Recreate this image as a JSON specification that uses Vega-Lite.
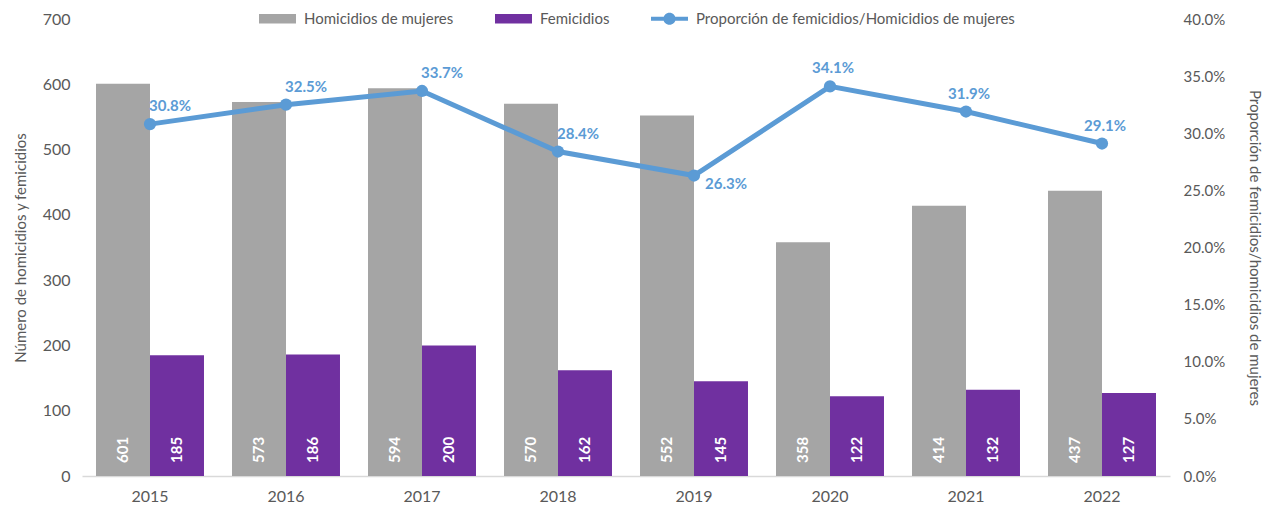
{
  "$schema": "https://vega.github.io/schema/vega-lite/v6.json",
  "width": 1088,
  "height": 457,
  "autosize": {"type": "none"},
  "padding": {"left": 82, "top": 19, "right": 96, "bottom": 30},
  "background": "white",
  "config": {
    "font": "Lato",
    "view": {"stroke": null},
    "axis": {"labelColor": "#595959", "titleColor": "#595959", "labelFontSize": 15, "titleFontSize": 15, "titleFontWeight": "normal", "grid": false, "ticks": false}
  },
  "datasets": {
    "bars": [
      {"year": "2015", "serie": "Homicidios de mujeres", "value": 601},
      {"year": "2015", "serie": "Femicidios", "value": 185},
      {"year": "2016", "serie": "Homicidios de mujeres", "value": 573},
      {"year": "2016", "serie": "Femicidios", "value": 186},
      {"year": "2017", "serie": "Homicidios de mujeres", "value": 594},
      {"year": "2017", "serie": "Femicidios", "value": 200},
      {"year": "2018", "serie": "Homicidios de mujeres", "value": 570},
      {"year": "2018", "serie": "Femicidios", "value": 162},
      {"year": "2019", "serie": "Homicidios de mujeres", "value": 552},
      {"year": "2019", "serie": "Femicidios", "value": 145},
      {"year": "2020", "serie": "Homicidios de mujeres", "value": 358},
      {"year": "2020", "serie": "Femicidios", "value": 122},
      {"year": "2021", "serie": "Homicidios de mujeres", "value": 414},
      {"year": "2021", "serie": "Femicidios", "value": 132},
      {"year": "2022", "serie": "Homicidios de mujeres", "value": 437},
      {"year": "2022", "serie": "Femicidios", "value": 127}
    ],
    "prop": [
      {"year": "2015", "prop": 0.308},
      {"year": "2016", "prop": 0.325},
      {"year": "2017", "prop": 0.337},
      {"year": "2018", "prop": 0.284},
      {"year": "2019", "prop": 0.263},
      {"year": "2020", "prop": 0.341},
      {"year": "2021", "prop": 0.319},
      {"year": "2022", "prop": 0.291}
    ]
  },
  "encoding": {
    "x": {
      "field": "year", "type": "ordinal",
      "scale": {"paddingInner": 0.206, "paddingOuter": 0.103},
      "axis": {"title": null, "labelAngle": 0, "labelFontSize": 16, "labelPadding": 12, "domainColor": "#d9d9d9", "domainWidth": 1.5}
    }
  },
  "layer": [
    {
      "data": {"name": "bars"},
      "encoding": {
        "xOffset": {"field": "serie", "type": "nominal", "sort": ["Homicidios de mujeres", "Femicidios"], "scale": {"paddingInner": 0, "paddingOuter": 0}}
      },
      "layer": [
        {
          "mark": {"type": "bar"},
          "encoding": {
            "y": {
              "field": "value", "type": "quantitative",
              "scale": {"domain": [0, 700]},
              "axis": {"title": "Número de homicidios y femicidios", "values": [0, 100, 200, 300, 400, 500, 600, 700], "domain": false, "labelPadding": 12, "labelFontSize": 16, "titlePadding": 14}
            },
            "fill": {
              "field": "serie", "type": "nominal",
              "scale": {"domain": ["Homicidios de mujeres", "Femicidios", "Proporción de femicidios/Homicidios de mujeres"], "range": ["#a5a5a5", "#7030a0", "#5b9bd5"]},
              "legend": {
                "title": null, "orient": "none", "direction": "horizontal",
                "legendX": 177, "legendY": -19,
                "labelFontSize": 15, "labelColor": "#595959", "labelOffset": 8, "labelLimit": 0,
                "symbolSize": 1369, "columnPadding": 41, "symbolStrokeWidth": 0,
                "encode": {
                  "symbols": {
                    "update": {
                      "shape": {"signal": "datum.value == 'Proporción de femicidios/Homicidios de mujeres' ? 'M-1,-0.11H-0.3V0.11H-1Z M0.3,-0.11H1V0.11H0.3Z M-0.33,0A0.33,0.33 0 1,1 0.33,0A0.33,0.33 0 1,1 -0.33,0Z' : 'M-1,-0.26H1V0.26H-1Z'"}
                    }
                  }
                }
              }
            }
          }
        },
        {
          "mark": {"type": "text", "angle": 270, "align": "left", "baseline": "middle", "dx": 13, "color": "white", "fontWeight": "bold", "fontSize": 15},
          "encoding": {
            "y": {"datum": 0, "type": "quantitative"},
            "text": {"field": "value", "type": "quantitative"}
          }
        }
      ]
    },
    {
      "data": {"name": "prop"},
      "encoding": {
        "y": {
          "field": "prop", "type": "quantitative",
          "scale": {"domain": [0, 0.4]},
          "axis": {"orient": "right", "title": "Proporción de femicidios/homicidios de mujeres", "values": [0, 0.05, 0.1, 0.15, 0.2, 0.25, 0.3, 0.35, 0.4], "format": ".1%", "domain": false, "labelPadding": 13, "titlePadding": 22}
        }
      },
      "layer": [
        {"mark": {"type": "line", "color": "#5b9bd5", "strokeWidth": 5}},
        {"mark": {"type": "point", "filled": true, "color": "#5b9bd5", "size": 150, "opacity": 1}},
        {
          "transform": [{"filter": "datum.year <= '2018'"}],
          "mark": {"type": "text", "color": "#5b9bd5", "fontWeight": "bold", "fontSize": 15, "dx": 20, "dy": -18},
          "encoding": {"text": {"field": "prop", "type": "quantitative", "format": ".1%"}}
        },
        {
          "transform": [{"filter": "datum.year == '2019'"}],
          "mark": {"type": "text", "color": "#5b9bd5", "fontWeight": "bold", "fontSize": 15, "dx": 32, "dy": 8},
          "encoding": {"text": {"field": "prop", "type": "quantitative", "format": ".1%"}}
        },
        {
          "transform": [{"filter": "datum.year >= '2020'"}],
          "mark": {"type": "text", "color": "#5b9bd5", "fontWeight": "bold", "fontSize": 15, "dx": 3, "dy": -18},
          "encoding": {"text": {"field": "prop", "type": "quantitative", "format": ".1%"}}
        }
      ]
    }
  ],
  "resolve": {"scale": {"y": "independent"}}
}
